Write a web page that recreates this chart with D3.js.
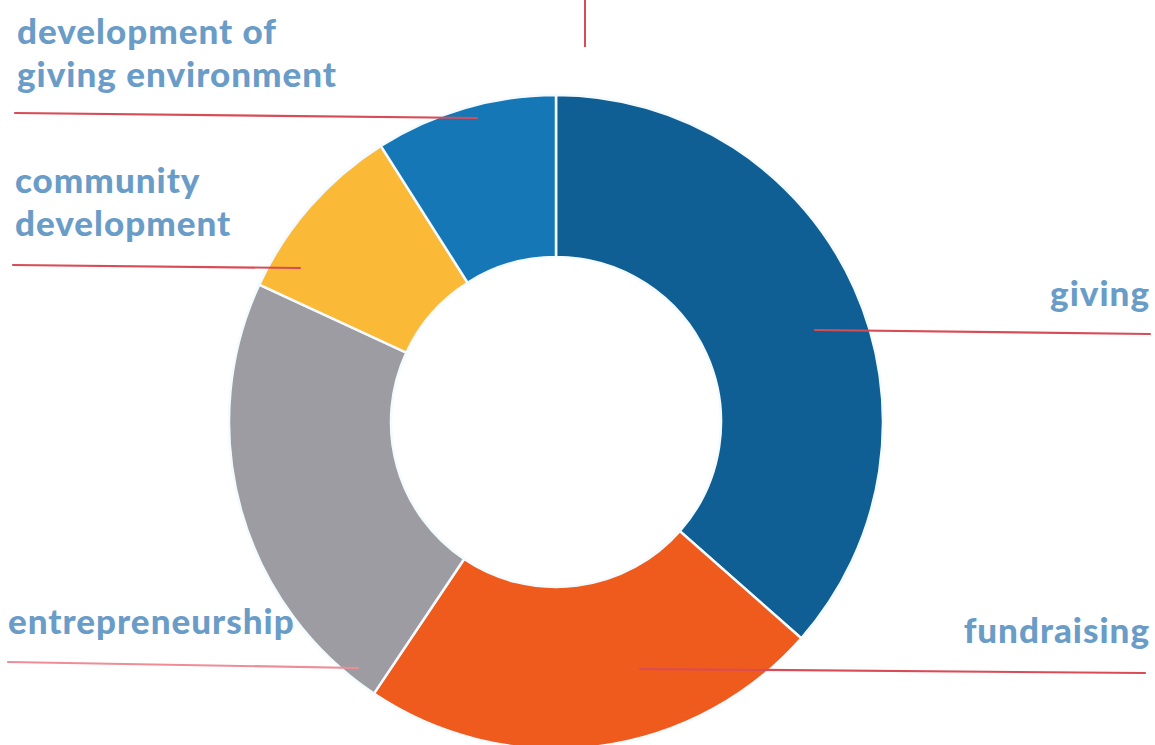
<!DOCTYPE html>
<html>
<head>
<meta charset="utf-8">
<script src="https://cdn.jsdelivr.net/npm/d3@7"></script>
<style>
  html, body { margin: 0; padding: 0; background: #ffffff; }
  svg { display: block; }
</style>
</head>
<body>
<svg id="chart" width="1155" height="745"></svg>
<script>
// ---- data (clockwise from 12 o'clock) ----
const categories = ["giving", "fundraising", "entrepreneurship", "community development", "development of giving environment"];
const shares = [36.5, 22.9, 22.5, 9.1, 9.0];
const labelLines = [["giving"], ["fundraising"], ["entrepreneurship"], ["community", "development"], ["development of", "giving environment"]];

// ---- styles / layout ----
const colors = ["#0f5f95", "#ef5b1d", "#9c9ca2", "#fbb938", "#1677b6"];
const textColor = "#6a9cc8";
const leaderColor = "#d84c57";
const cx = 556, cy = 422, rOuter = 327, rInner = 165;

const labelLayout = [
  { x: 1150, y: 306, anchor: "end", line: [[1150, 334], [815, 330]] },
  { x: 1150, y: 643, anchor: "end", line: [[1145, 673], [640, 669]] },
  { x: 8, y: 634, anchor: "start", line: [[8, 662], [358, 668]], pink: true },
  { x: 15, y: 193, anchor: "start", line: [[13, 265], [300, 268]] },
  { x: 17, y: 44, anchor: "start", line: [[15, 113], [477, 118]] }
];
const lineHeight = 43;

const data = categories.map((c, i) => ({ name: c, value: shares[i], color: colors[i], lines: labelLines[i], layout: labelLayout[i] }));

const svg = d3.select("#chart");
const g = svg.append("g").attr("transform", `translate(${cx},${cy})`);

const pie = d3.pie().sort(null).value(d => d.value);
const arc = d3.arc().innerRadius(rInner).outerRadius(rOuter);

g.selectAll("path.slice")
  .data(pie(data))
  .join("path")
  .attr("class", "slice")
  .attr("d", arc)
  .attr("fill", d => d.data.color)
  .attr("stroke", "#f4fbff")
  .attr("stroke-width", 2.5);

svg.selectAll("line.leader")
  .data(data)
  .join("line")
  .attr("class", "leader")
  .attr("x1", d => d.layout.line[0][0])
  .attr("y1", d => d.layout.line[0][1])
  .attr("x2", d => d.layout.line[1][0])
  .attr("y2", d => d.layout.line[1][1])
  .attr("stroke", d => d.layout.pink ? "#ee8d97" : leaderColor)
  .attr("stroke-width", 2.2)
  .attr("stroke-linecap", "round");

svg.append("line")
  .attr("x1", 585).attr("y1", 0)
  .attr("x2", 585).attr("y2", 47)
  .attr("stroke", leaderColor)
  .attr("stroke-width", 2);

const labels = svg.selectAll("text.label")
  .data(data)
  .join("text")
  .attr("class", "label")
  .attr("x", d => d.layout.x)
  .attr("y", d => d.layout.y)
  .attr("text-anchor", d => d.layout.anchor)
  .attr("fill", textColor)
  .style("font-family", "Lato, 'Noto Sans', sans-serif")
  .style("font-weight", "900")
  .style("font-size", "35px")
  .style("letter-spacing", "1px");

labels.selectAll("tspan")
  .data(d => d.lines.map((t, i) => ({ t, i, x: d.layout.x })))
  .join("tspan")
  .attr("x", d => d.x)
  .attr("dy", d => d.i === 0 ? 0 : lineHeight)
  .text(d => d.t);
</script>
</body>
</html>
